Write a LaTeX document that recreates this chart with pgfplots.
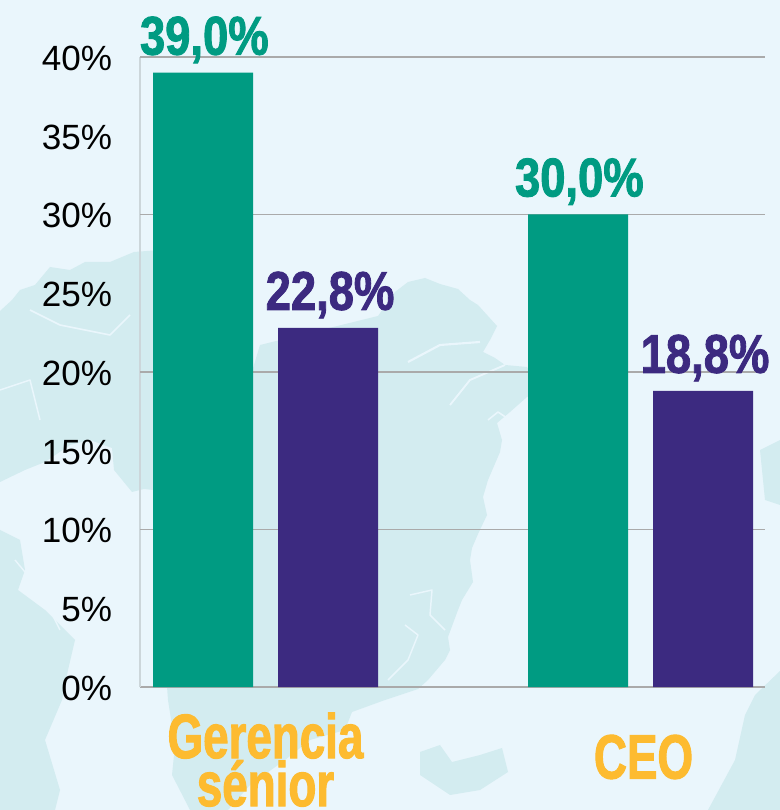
\documentclass[border=0pt]{standalone}
\usepackage{fontspec}
\setmainfont{Liberation Sans}[BoldFeatures={FakeStretch=0.83,FakeBold=1.6}]
\newfontfamily\catfont{Liberation Sans}[BoldFeatures={FakeStretch=0.73,FakeBold=1.6}]
\usepackage{pgfplots}
\pgfplotsset{compat=1.18}
\definecolor{bgblue}{HTML}{EAF6FC}
\definecolor{land}{HTML}{D3ECF0}
\definecolor{teal1}{HTML}{009B82}
\definecolor{purp}{HTML}{3C2A80}
\definecolor{gold}{HTML}{FDBB30}
\definecolor{gridg}{HTML}{AAAAAA}
\definecolor{lefty}{HTML}{CCD6DA}
\begin{document}
\begin{tikzpicture}
% page, 780x810 px
\useasboundingbox (0,0) rectangle (585pt,607.5pt);
\fill[bgblue] (0,0) rectangle (585pt,607.5pt);
% faint map behind the chart
\begin{scope}[x=0.75pt,y=-0.75pt,yshift=607.5pt]
\clip (0,0) rectangle (780,810);
\fill[land] (378,316)--(395,292)--(408,282)--(425,278)--(440,284)--(458,289)--(470,300)--(478,305)--(497,326)--(490,340)--(483,352)--(495,358)--(505,365)--(527,367)
  --(540,390)--(527,397)--(510,412)--(497,423)--(502,440)--(500,452)--(488,480)--(483,497)--(487,515)--(478,534)
  --(472,548)--(470,560)--(473,582)--(462,600)--(458,610)--(448,637)--(450,650)--(445,660)--(428,680)--(418,689)--(385,700)--(352,712)
  --(345,730)--(310,740)--(285,760)--(250,785)--(228,810)--(190,810)--(172,775)--(175,745)--(168,700)--(165,660)
  --(260,345)--cycle;
\fill[land] (153,490)--(144,489)--(132,492)--(114,470)--(112,448)--(90,440)--(70,445)--(45,462)--(25,470)--(0,482)--(0,311)--(12,300)--(20,290)--(35,285)--(50,267)
  --(70,270)--(85,262)--(110,262)--(134,252)--(160,250)--(160,490)--cycle;
\fill[land] (0,530)--(20,540)--(25,570)--(18,590)--(45,610)--(60,625)--(75,640)--(68,670)--(62,700)--(45,740)--(60,790)--(55,810)--(0,810)--cycle;
\fill[land] (420,752)--(440,745)--(452,762)--(480,755)--(502,748)--(508,772)--(480,790)--(450,795)--(420,775)--cycle;
\fill[land] (780,671)--(755,695)--(745,715)--(735,760)--(708,810)--(780,810)--cycle;
\fill[land] (780,440)--(760,450)--(765,500)--(780,505)--cycle;
% fjords
\draw[bgblue,line width=1.6pt,line join=round] (408,362)--(440,345)--(480,342);
\draw[bgblue,line width=1.4pt,line join=round] (450,405)--(470,380)--(505,365);
\draw[bgblue,line width=1.2pt,line join=round] (488,420)--(498,412)--(510,420);
\draw[bgblue,line width=1.1pt,line join=round] (410,595)--(432,590)--(430,615)--(445,630);
\draw[bgblue,line width=1.1pt,line join=round] (388,680)--(408,660)--(418,635)--(405,625);
\draw[bgblue,line width=1.2pt,line join=round] (30,310)--(60,325)--(110,335)--(130,315);
\draw[bgblue,line width=1.1pt,line join=round] (0,390)--(30,380)--(40,420);
\draw[bgblue,line width=1.1pt,line join=round] (15,560)--(40,590)--(60,630);
\end{scope}
\begin{axis}[
    at={(105pt,92.25pt)},
    anchor=south west,
    scale only axis,
    width=468.75pt,
    height=472.5pt,
    xmin=-0.3347, xmax=1.3320,
    ymin=0, ymax=40,
    clip=false,
    ybar,
    bar width=75pt,
    axis x line*=bottom,
    axis y line*=left,
    x axis line style={draw=gridg,line width=1pt},
    y axis line style={draw=lefty,line width=1pt},
    tick style={draw=none},
    xtick={0,1},
    xticklabels={{Gerencia\\sénior},{\hspace*{4.5pt}\raisebox{4.5pt}{CEO}}},
    x tick label style={font=\catfont\fontsize{47}{36}\selectfont\bfseries,text=gold,align=center,anchor=center,yshift=-50.25pt},
    ytick={0,5,...,40},
    extra y ticks={10,20,30,40},
    extra y tick labels={},
    extra tick style={grid=major,grid style={draw=gridg,line width=0.8pt}},
    yticklabel={\pgfmathprintnumber{\tick}\%},
    /pgf/number format/assume math mode=true,
    y tick label style={font=\fontsize{26.3}{26}\selectfont,text=black,anchor=east,xshift=-17.5pt,yshift=-1pt},
    nodes near coords={\pgfmathprintnumber[fixed,fixed zerofill,precision=1,use comma]{\pgfplotspointmeta}\%},
    every node near coord/.append style={font=\fontsize{41}{41}\selectfont\bfseries,inner sep=0pt,anchor=south,yshift=7pt},
]
\addplot[fill=teal1,draw=none,bar shift=-46.875pt,text=teal1,every node near coord/.append style={xshift=1pt}] coordinates {(0,39.0)(1,30.0)};
\addplot[fill=purp,draw=none,bar shift=46.875pt,text=purp,every node near coord/.append style={xshift=1.5pt}] coordinates {(0,22.8)(1,18.8)};
\end{axis}
\end{tikzpicture}
\end{document}
